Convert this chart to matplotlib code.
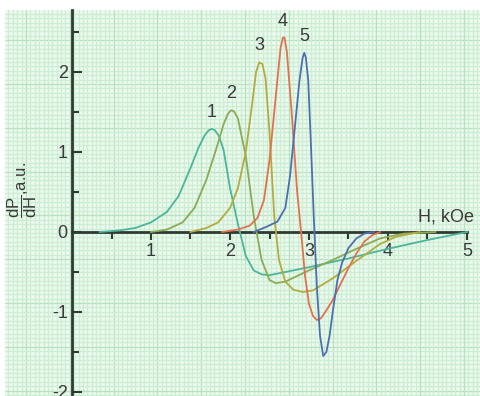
import numpy as np
import matplotlib
matplotlib.use('Agg')
import matplotlib.pyplot as plt

plt.rcParams['font.family'] = ['Liberation Sans', 'DejaVu Sans']
plt.rcParams['axes.unicode_minus'] = False
plt.rcParams['mathtext.fontset'] = 'custom'
plt.rcParams['mathtext.rm'] = 'Liberation Sans'
plt.rcParams['mathtext.it'] = 'Liberation Sans'

# field H (kOe) and derivative dP/dH (a.u.) for the five spectra
h1 = [0.35, 0.6, 0.8, 1.0, 1.2, 1.35, 1.5, 1.6, 1.68, 1.73, 1.77, 1.81, 1.86, 1.92, 2.0, 2.1, 2.2, 2.3, 2.4, 2.5, 2.7, 3.0, 3.5, 4.0, 4.5, 5.0]
p1 = [0, 0.02, 0.05, 0.12, 0.25, 0.45, 0.8, 1.05, 1.21, 1.27, 1.29, 1.27, 1.2, 1.02, 0.55, 0.1, -0.3, -0.48, -0.53, -0.54, -0.5, -0.44, -0.33, -0.21, -0.1, 0]

h2 = [1.0, 1.2, 1.4, 1.55, 1.7, 1.82, 1.92, 1.97, 2.01, 2.05, 2.1, 2.2, 2.3, 2.4, 2.5, 2.58, 2.7, 3.0, 3.3, 3.6, 3.9, 4.2, 4.6]
p2 = [0, 0.03, 0.12, 0.3, 0.65, 1.02, 1.35, 1.47, 1.52, 1.51, 1.42, 0.95, 0.2, -0.35, -0.6, -0.64, -0.62, -0.48, -0.35, -0.21, -0.08, -0.02, 0]

h3 = [1.5, 1.7, 1.85, 2.0, 2.1, 2.2, 2.28, 2.33, 2.37, 2.41, 2.45, 2.5, 2.56, 2.62, 2.7, 2.8, 2.92, 3.05, 3.3, 3.6, 3.9, 4.1, 4.4]
p3 = [0, 0.05, 0.12, 0.3, 0.55, 1.0, 1.6, 2.0, 2.12, 2.1, 1.92, 1.25, 0.2, -0.35, -0.62, -0.72, -0.75, -0.73, -0.58, -0.36, -0.15, -0.06, 0]

h4 = [1.9, 2.1, 2.25, 2.35, 2.43, 2.5, 2.58, 2.64, 2.67, 2.69, 2.72, 2.78, 2.85, 2.9, 2.95, 3.0, 3.05, 3.1, 3.15, 3.22, 3.3, 3.4, 3.5, 3.6, 3.7, 3.8, 3.9]
p4 = [0, 0.03, 0.08, 0.18, 0.4, 0.9, 1.7, 2.3, 2.43, 2.43, 2.25, 1.5, 0.5, 0.0, -0.55, -0.9, -1.05, -1.1, -1.08, -0.98, -0.85, -0.65, -0.45, -0.27, -0.12, -0.04, 0]

h5 = [2.3, 2.45, 2.6, 2.7, 2.76, 2.82, 2.88, 2.92, 2.94, 2.96, 2.99, 3.02, 3.06, 3.1, 3.14, 3.18, 3.22, 3.26, 3.3, 3.36, 3.42, 3.5, 3.6, 3.7, 3.82]
p5 = [0, 0.06, 0.13, 0.3, 0.7, 1.3, 1.9, 2.18, 2.24, 2.18, 1.9, 1.2, 0.2, -0.7, -1.3, -1.55, -1.5, -1.3, -1.0, -0.6, -0.38, -0.2, -0.08, -0.02, 0]

curves = [(h1, p1, '#4cb59c'), (h2, p2, '#8daa55'), (h3, p3, '#b3ab3f'),
          (h4, p4, '#e07250'), (h5, p5, '#4d6fb0')]
labels = ['1', '2', '3', '4', '5']

W, H = 481, 396
fig = plt.figure(figsize=(W / 100, H / 100), dpi=100)
fig.patch.set_facecolor('white')

# graph paper background (pixel units)
bg = fig.add_axes([5 / W, 0, (W - 5) / W, (H - 10) / H])
bg.set_xlim(0, W - 5)
bg.set_ylim(H - 10, 0)
bg.axis('off')
bg.add_patch(plt.Rectangle((0, 0), W - 5, H - 10, color='#eefaef', zorder=0))
step = 4.38
for i in range(-20, 120):
    xv = 21 + i * step
    yv = 30.2 + i * step
    major = (i % 10 == 0)
    c = '#b9e2c1' if major else '#cdeed4'
    if 0 <= xv <= W - 5:
        bg.axvline(xv, color=c, lw=1.0, zorder=1)
    if 0 <= yv <= H - 10:
        bg.axhline(yv, color=c, lw=1.0, zorder=1)

# main plot
ax = fig.add_axes([72 / W, 0, (W - 72) / W, (H - 10) / H])
ax.patch.set_alpha(0)
ax.set_xlim(0, (W - 72) / 79)
ax.set_ylim(-164 / 80, 222 / 80)

for (hx, py, col) in curves:
    ax.plot(hx, py, color=col, lw=1.3, zorder=3, solid_joinstyle='round')

ax.spines['top'].set_visible(False)
ax.spines['right'].set_visible(False)
ax.spines['bottom'].set_position(('data', 0))
ax.spines['bottom'].set_bounds(0, 5)
for s in ['left', 'bottom']:
    ax.spines[s].set_color('#2f3a33')
    ax.spines[s].set_linewidth(2)
    ax.spines[s].set_zorder(2)

ax.set_xticks([1, 2, 3, 4, 5])
ax.set_xticks([0.5, 1.5, 2.5, 3.5, 4.5], minor=True)
ax.set_yticks([-2, -1, 0, 1, 2])
ax.set_yticks([-1.5, -0.5, 0.5, 1.5, 2.5], minor=True)
ax.tick_params(axis='x', which='major', direction='out', length=6, width=1.5,
               colors='#2f3a33', labelsize=13, labelcolor='#3a3a3a', pad=2)
ax.tick_params(axis='x', which='minor', direction='out', length=5, width=1.5, colors='#2f3a33')
ax.tick_params(axis='y', which='major', direction='in', length=7, width=1.5,
               colors='#2f3a33', labelsize=13, labelcolor='#3a3a3a', pad=3)
ax.tick_params(axis='y', which='minor', direction='in', length=5, width=1.5, colors='#2f3a33')

# curve numbers above the peaks
for (hx, py, col), lab in zip(curves, labels):
    k = int(np.argmax(py))
    ax.text(hx[k], py[k] + 0.1, lab, ha='center', va='bottom', fontsize=13, color='#3a3a3a')

ax.text(4.73, 0.08, 'H, kOe', ha='center', va='bottom', fontsize=13, color='#3a3a3a')

fig.text(22 / W, 1 - 190 / H, r'$\mathrm{\dfrac{dP}{dH}}$,a.u.', rotation=90, ha='center', va='center',
         fontsize=12, color='#3a3a3a')

fig.savefig('out.png', dpi=100)
